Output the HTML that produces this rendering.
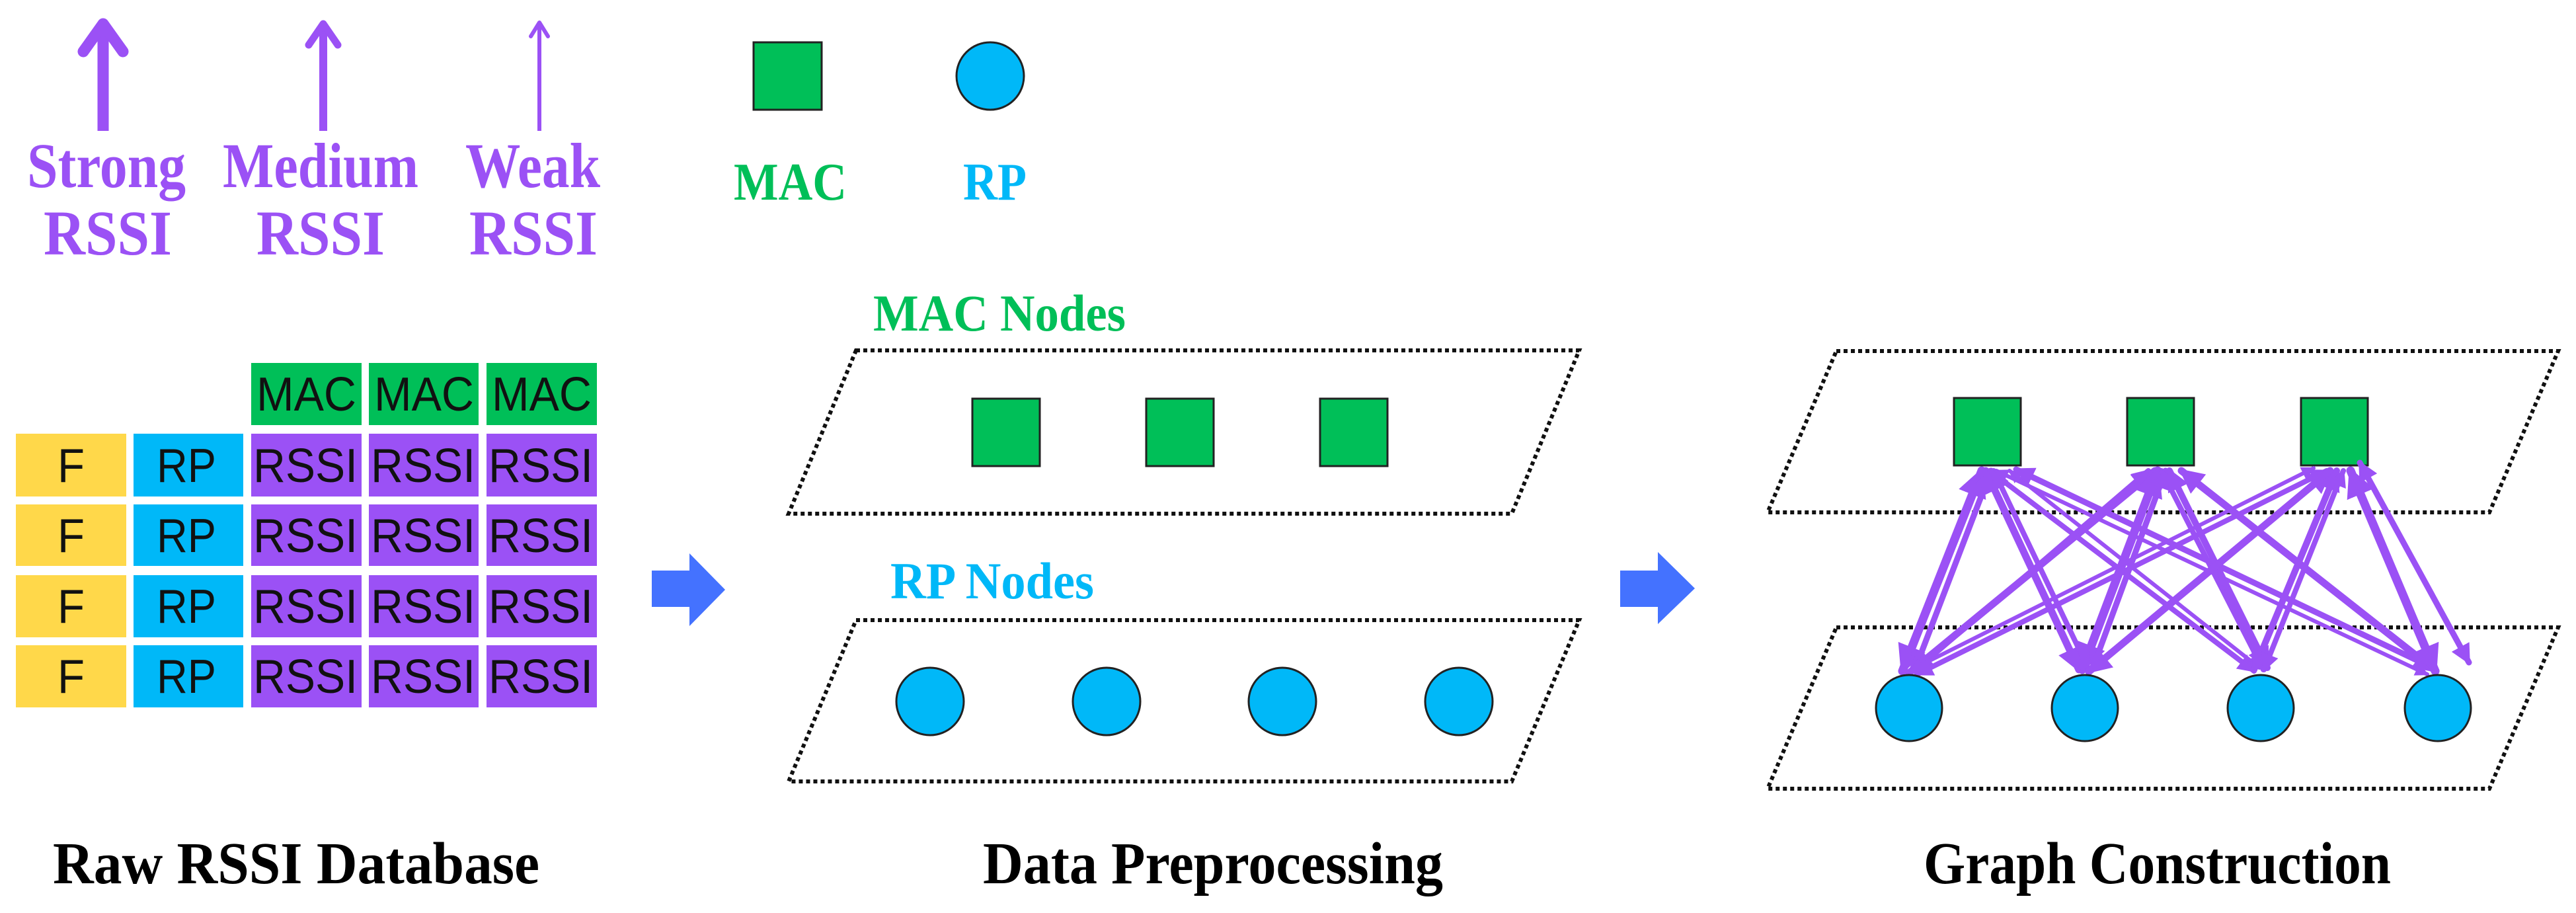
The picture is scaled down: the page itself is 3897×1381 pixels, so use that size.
<!DOCTYPE html>
<html><head><meta charset="utf-8"><style>
html,body{margin:0;padding:0;background:#fff}
svg{display:block}
.t{font-family:"Liberation Serif",serif;font-weight:bold}
.s{font-family:"Liberation Sans",sans-serif}
</style></head><body>
<svg width="3897" height="1381" viewBox="0 0 3897 1381" xmlns="http://www.w3.org/2000/svg">
<defs>
<marker id="ah" viewBox="0 0 4 4" refX="3.5" refY="2" markerWidth="3.4" markerHeight="3.4" orient="auto-start-reverse"><path d="M0,0 L4,2 L0,4 Z" fill="#9b51f5"/></marker>
</defs>
<!-- legend arrows -->
<g fill="#9b51f5" stroke="#9b51f5">
<line x1="156" y1="198" x2="156" y2="50" stroke-width="17"/>
<path d="M126,78 L156,36 L186,78" fill="none" stroke-width="17" stroke-linejoin="round" stroke-linecap="round"/>
<line x1="489" y1="198" x2="489" y2="45" stroke-width="12"/>
<path d="M467,68 L489,36 L511,68" fill="none" stroke-width="11" stroke-linejoin="round" stroke-linecap="round"/>
<line x1="816" y1="198" x2="816" y2="40" stroke-width="6"/>
<path d="M803,55 L816,34 L829,55" fill="none" stroke-width="6" stroke-linejoin="round" stroke-linecap="round"/>
</g>
<g class="t" fill="#9b51f5" font-size="96">
<text x="41" y="283" textLength="240" lengthAdjust="spacingAndGlyphs">Strong</text>
<text x="66" y="385" textLength="194" lengthAdjust="spacingAndGlyphs">RSSI</text>
<text x="337" y="283" textLength="296" lengthAdjust="spacingAndGlyphs">Medium</text>
<text x="388" y="385" textLength="194" lengthAdjust="spacingAndGlyphs">RSSI</text>
<text x="704" y="283" textLength="204" lengthAdjust="spacingAndGlyphs">Weak</text>
<text x="710" y="385" textLength="194" lengthAdjust="spacingAndGlyphs">RSSI</text>
</g>
<!-- legend shapes -->
<rect x="1140" y="64" width="103" height="102" fill="#00bf58" stroke="#222" stroke-width="3"/>
<ellipse cx="1498" cy="115" rx="51" ry="51" fill="#00b8f8" stroke="#222" stroke-width="3"/>
<text class="t" x="1110" y="302" font-size="80" fill="#00bf58" textLength="171" lengthAdjust="spacingAndGlyphs">MAC</text>
<text class="t" x="1457" y="302" font-size="80" fill="#00b8f8" textLength="96" lengthAdjust="spacingAndGlyphs">RP</text>
<!-- table -->
<g fill="#00bf58"><rect x="380" y="549" width="167" height="94"/><rect x="558" y="549" width="166" height="94"/><rect x="736" y="549" width="167" height="94"/></g>
<g class="s" font-size="72" fill="#111">
<text x="388" y="621" textLength="151" lengthAdjust="spacingAndGlyphs">MAC</text><text x="566" y="621" textLength="151" lengthAdjust="spacingAndGlyphs">MAC</text><text x="744" y="621" textLength="151" lengthAdjust="spacingAndGlyphs">MAC</text>
</g>
<g>
<rect x="24" y="656" width="167" height="95" fill="#ffd84a"/><rect x="202" y="656" width="166" height="95" fill="#00b8f8"/>
<rect x="380" y="656" width="167" height="95" fill="#9b51f5"/><rect x="558" y="656" width="166" height="95" fill="#9b51f5"/><rect x="736" y="656" width="167" height="95" fill="#9b51f5"/>
<rect x="24" y="763" width="167" height="93" fill="#ffd84a"/><rect x="202" y="763" width="166" height="93" fill="#00b8f8"/>
<rect x="380" y="763" width="167" height="93" fill="#9b51f5"/><rect x="558" y="763" width="166" height="93" fill="#9b51f5"/><rect x="736" y="763" width="167" height="93" fill="#9b51f5"/>
<rect x="24" y="870" width="167" height="94" fill="#ffd84a"/><rect x="202" y="870" width="166" height="94" fill="#00b8f8"/>
<rect x="380" y="870" width="167" height="94" fill="#9b51f5"/><rect x="558" y="870" width="166" height="94" fill="#9b51f5"/><rect x="736" y="870" width="167" height="94" fill="#9b51f5"/>
<rect x="24" y="976" width="167" height="94" fill="#ffd84a"/><rect x="202" y="976" width="166" height="94" fill="#00b8f8"/>
<rect x="380" y="976" width="167" height="94" fill="#9b51f5"/><rect x="558" y="976" width="166" height="94" fill="#9b51f5"/><rect x="736" y="976" width="167" height="94" fill="#9b51f5"/>
</g>
<g class="s" font-size="72" fill="#111">
<text x="87" y="729" textLength="41" lengthAdjust="spacingAndGlyphs">F</text><text x="237" y="729" textLength="90" lengthAdjust="spacingAndGlyphs">RP</text><text x="383" y="729" textLength="158" lengthAdjust="spacingAndGlyphs">RSSI</text><text x="561" y="729" textLength="158" lengthAdjust="spacingAndGlyphs">RSSI</text><text x="739" y="729" textLength="158" lengthAdjust="spacingAndGlyphs">RSSI</text>
<text x="87" y="835" textLength="41" lengthAdjust="spacingAndGlyphs">F</text><text x="237" y="835" textLength="90" lengthAdjust="spacingAndGlyphs">RP</text><text x="383" y="835" textLength="158" lengthAdjust="spacingAndGlyphs">RSSI</text><text x="561" y="835" textLength="158" lengthAdjust="spacingAndGlyphs">RSSI</text><text x="739" y="835" textLength="158" lengthAdjust="spacingAndGlyphs">RSSI</text>
<text x="87" y="942" textLength="41" lengthAdjust="spacingAndGlyphs">F</text><text x="237" y="942" textLength="90" lengthAdjust="spacingAndGlyphs">RP</text><text x="383" y="942" textLength="158" lengthAdjust="spacingAndGlyphs">RSSI</text><text x="561" y="942" textLength="158" lengthAdjust="spacingAndGlyphs">RSSI</text><text x="739" y="942" textLength="158" lengthAdjust="spacingAndGlyphs">RSSI</text>
<text x="87" y="1048" textLength="41" lengthAdjust="spacingAndGlyphs">F</text><text x="237" y="1048" textLength="90" lengthAdjust="spacingAndGlyphs">RP</text><text x="383" y="1048" textLength="158" lengthAdjust="spacingAndGlyphs">RSSI</text><text x="561" y="1048" textLength="158" lengthAdjust="spacingAndGlyphs">RSSI</text><text x="739" y="1048" textLength="158" lengthAdjust="spacingAndGlyphs">RSSI</text>
</g>
<!-- blue arrows -->
<path d="M986,863 L1043,863 L1043,837 L1097,892 L1043,947 L1043,918 L986,918 Z" fill="#4472ff"/>
<path d="M2451,863 L2508,863 L2508,835 L2564,890 L2508,944 L2508,918 L2451,918 Z" fill="#4472ff"/>
<!-- middle -->
<text class="t" x="1321" y="500" font-size="78" fill="#00bf58" textLength="382" lengthAdjust="spacingAndGlyphs">MAC Nodes</text>
<text class="t" x="1347" y="905" font-size="78" fill="#00b8f8" textLength="308" lengthAdjust="spacingAndGlyphs">RP Nodes</text>
<g fill="none" stroke="#111" stroke-width="6" stroke-dasharray="6 5">
<path d="M1295,530 L2389,530 L2287,777 L1193,777 Z"/>
<path d="M1295,938 L2389,938 L2287,1182 L1193,1182 Z"/>
<path d="M2778,531 L3870,531 L3766,775 L2674,775 Z"/>
<path d="M2778,949 L3870,949 L3766,1193 L2674,1193 Z"/>
</g>
<g fill="#00bf58" stroke="#222" stroke-width="3">
<rect x="1471" y="603" width="102" height="102"/><rect x="1734" y="603" width="102" height="102"/><rect x="1997" y="603" width="102" height="102"/>
</g>
<g fill="#00b8f8" stroke="#222" stroke-width="3">
<circle cx="1407" cy="1061" r="51"/><circle cx="1674" cy="1061" r="51"/><circle cx="1940" cy="1061" r="51"/><circle cx="2207" cy="1061" r="51"/>
</g>
<!-- graph -->
<g fill="#00bf58" stroke="#222" stroke-width="3">
<rect x="2956" y="602" width="101" height="102"/><rect x="3218" y="602" width="101" height="102"/><rect x="3481" y="602" width="101" height="102"/>
</g>
<g stroke="#9b51f5" fill="none" marker-start="url(#ah)" marker-end="url(#ah)" stroke-linecap="round">
<line x1="2998" y1="712" x2="2878" y2="1015" stroke-width="13"/>
<line x1="3012" y1="712" x2="2896" y2="1015" stroke-width="9"/>
<line x1="3004" y1="712" x2="3145" y2="1013" stroke-width="11"/>
<line x1="3016" y1="712" x2="3160" y2="1013" stroke-width="8"/>
<line x1="3010" y1="712" x2="3410" y2="1015" stroke-width="8"/>
<line x1="3040" y1="712" x2="3418" y2="1010" stroke-width="6"/>
<line x1="3020" y1="712" x2="3672" y2="1020" stroke-width="6"/>
<line x1="3050" y1="710" x2="3680" y2="1010" stroke-width="9"/>
<line x1="3260" y1="712" x2="2888" y2="1018" stroke-width="11"/>
<line x1="3250" y1="712" x2="2900" y2="1012" stroke-width="8"/>
<line x1="3264" y1="712" x2="3150" y2="1013" stroke-width="13"/>
<line x1="3276" y1="712" x2="3165" y2="1013" stroke-width="9"/>
<line x1="3270" y1="712" x2="3424" y2="1013" stroke-width="8"/>
<line x1="3282" y1="712" x2="3430" y2="1010" stroke-width="10"/>
<line x1="3300" y1="712" x2="3685" y2="1015" stroke-width="11"/>
<line x1="3520" y1="712" x2="2900" y2="1020" stroke-width="8"/>
<line x1="3500" y1="708" x2="2890" y2="1014" stroke-width="6"/>
<line x1="3525" y1="712" x2="3160" y2="1016" stroke-width="11"/>
<line x1="3535" y1="712" x2="3410" y2="1013" stroke-width="10"/>
<line x1="3545" y1="712" x2="3425" y2="1013" stroke-width="8"/>
<line x1="3556" y1="712" x2="3684" y2="1015" stroke-width="13"/>
<line x1="3570" y1="700" x2="3735" y2="1002" stroke-width="9"/>
</g>
<g fill="#00b8f8" stroke="#222" stroke-width="3">
<ellipse cx="2888" cy="1071" rx="50" ry="50"/><ellipse cx="3154" cy="1071" rx="50" ry="50"/><ellipse cx="3420" cy="1071" rx="50" ry="50"/><ellipse cx="3688" cy="1071" rx="50" ry="50"/>
</g>
<!-- titles -->
<g class="t" font-size="90" fill="#000">
<text x="80" y="1336" textLength="736" lengthAdjust="spacingAndGlyphs">Raw RSSI Database</text>
<text x="1487" y="1336" textLength="696" lengthAdjust="spacingAndGlyphs">Data Preprocessing</text>
<text x="2910" y="1336" textLength="707" lengthAdjust="spacingAndGlyphs">Graph Construction</text>
</g>
</svg>
</body></html>
